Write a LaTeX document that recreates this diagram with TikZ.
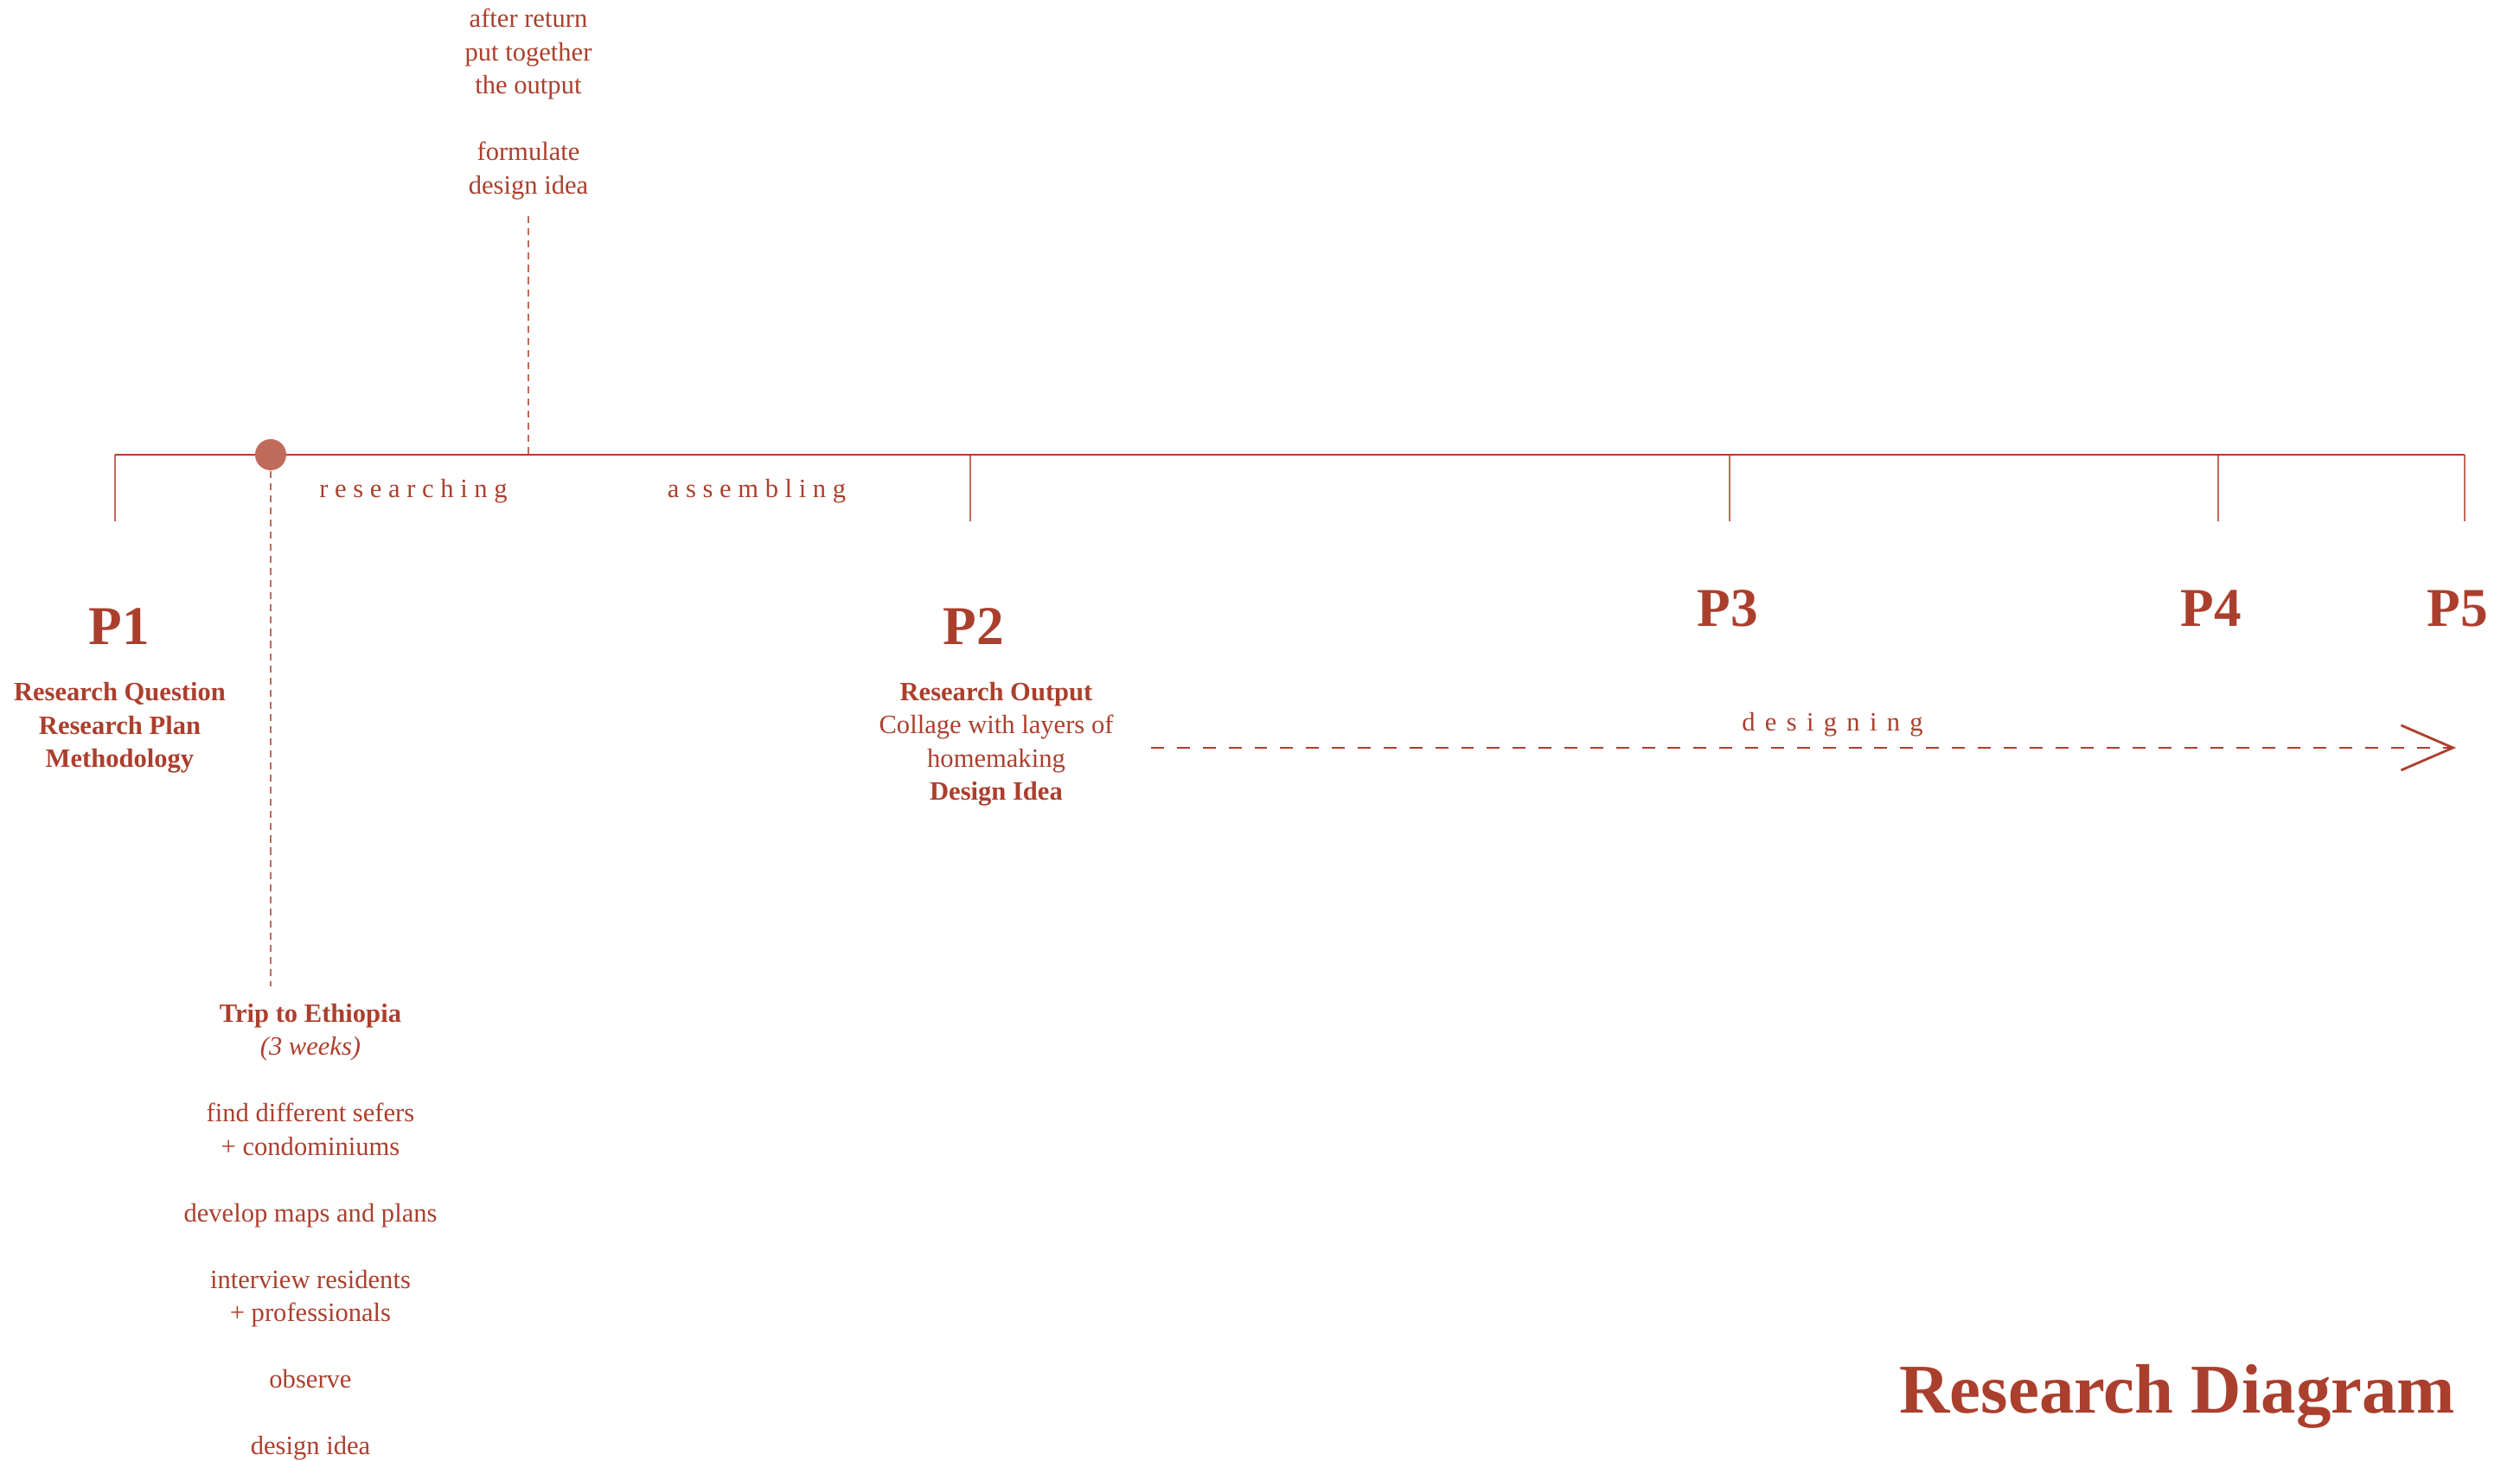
\documentclass[tikz,border=0pt]{standalone}
\usepackage{fontspec}
\setmainfont{Liberation Serif}
\usetikzlibrary{arrows.meta}

\definecolor{rust}{HTML}{AB3F2D}
\definecolor{rustlight}{HTML}{C06A5B}

\tikzset{
    txt/.style={text=rust, align=center, font=\fontsize{8.7}{10.95}\selectfont},
    phase/.style={text=rust, font=\fontsize{18}{20}\selectfont\bfseries},
    spaced/.style={text=rust, font=\fontsize{8.7}{10.95}\selectfont\addfontfeature{LetterSpace=25}},
    tick/.style={draw=rustlight, line width=0.75pt},
    dashline/.style={draw=rustlight, line width=0.7pt, dash pattern=on 2.3pt off 1.7pt}
}

\begin{document}
\begin{tikzpicture}
    \useasboundingbox (0,0) rectangle (29.14,16.90);

    % Ligne du temps
    \foreach \n/\x in {1/1.33, 2/11.22, 3/20.00, 4/25.65, 5/28.50}{
        \coordinate (t\n) at (\x,11.64);
        \coordinate (b\n) at (\x,10.87);
        \draw[tick] (t\n) -- (b\n);
    }
    \draw[rust, line width=0.8pt] (t1) -- (t5);

    % Jalons
    \node[phase] (p1) at (1.375,9.65) {P1};
    \node[phase] (p2) at (11.26,9.65) {P2};
    \node[phase] (p3) at (19.98,9.86) {P3};
    \node[phase] (p4) at (25.57,9.86) {P4};
    \node[phase] (p5) at (28.42,9.86) {P5};

    \node[txt] (goals) at (1.385,8.48) {\textbf{Research Question}\\\textbf{Research Plan}\\\textbf{Methodology}};
    \node[txt] (output) at (11.52,8.29) {\textbf{Research Output}\\Collage with layers of\\homemaking\\\textbf{Design Idea}};

    % Phases
    \node[spaced] (research) at (4.78,11.22) {researching};
    \node[spaced] (assemble) at (8.75,11.22) {assembling};
    \node[spaced, font=\fontsize{8.7}{10.95}\selectfont\addfontfeature{LetterSpace=37}] (design) at (21.19,8.52) {designing};

    \coordinate (dstart) at (13.31,8.25);
    \coordinate (dend) at (28.40,8.25);
    \draw[rust, line width=0.75pt, dash pattern=on 4.25pt off 4.25pt,
        -{Straight Barb[length=0.6cm, width=0.52cm, line width=0.8pt]}] (dstart) -- (dend);

    % Voyage
    \node[circle, fill=rustlight, minimum size=0.36cm, inner sep=0pt] (dot) at (3.13,11.64) {};
    \node[txt] (trip) at (3.59,2.65) {\textbf{Trip to Ethiopia}\\\textit{(3 weeks)}\\[10.95pt]
        find different sefers\\+ condominiums\\[10.95pt]
        develop maps and plans\\[10.95pt]
        interview residents\\+ professionals\\[10.95pt]
        observe\\[10.95pt]
        design idea};
    \draw[dashline, shorten >=2pt] (dot.south) -- (dot.south |- trip.north);

    % Retour
    \node[txt] (after) at (6.11,15.695) {after return\\put together\\the output\\[10.95pt]formulate\\design idea};
    \draw[dashline, shorten <=2pt] (after.south) -- (after.south |- t1);

    % Titre
    \node[text=rust, font=\fontsize{23}{26}\selectfont\bfseries, anchor=base east, inner sep=0pt] (title) at (28.40,0.55) {Research Diagram};
\end{tikzpicture}
\end{document}
